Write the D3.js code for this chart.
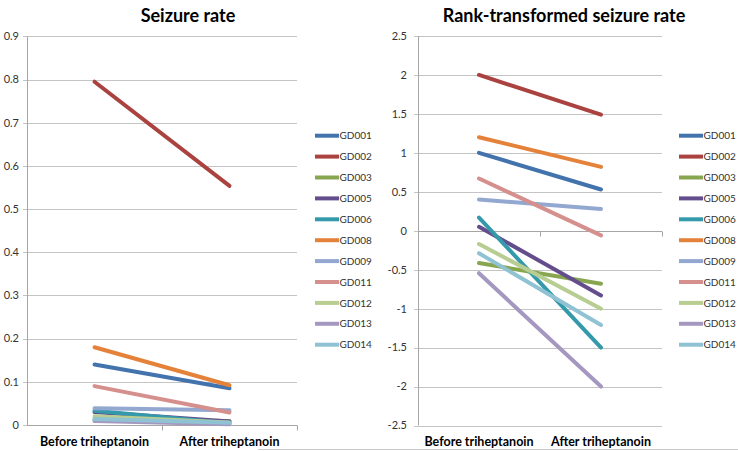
<!DOCTYPE html>
<html>
<head>
<meta charset="utf-8">
<script src="https://cdn.jsdelivr.net/npm/d3@7"></script>
<style>
  body { margin: 0; background: #fff; }
  svg { display: block; font-family: Lato, "Liberation Sans", sans-serif; }
  .tick-label { font-size: 11px; fill: #333; }
  .cat-label { font-size: 12.5px; font-weight: bold; fill: #000; }
  .title { font-size: 18px; font-weight: bold; fill: #000; }
  .legend-label { font-size: 10px; fill: #333; }
</style>
</head>
<body>
<div class="chart"></div>
<script>
'use strict';

const categories = ['Before triheptanoin', 'After triheptanoin'];
const patients = ['GD001', 'GD002', 'GD003', 'GD005', 'GD006', 'GD008', 'GD009', 'GD011', 'GD012', 'GD013', 'GD014'];

const seizureBefore = [0.14, 0.795, 0.012, 0.030, 0.033, 0.18, 0.039, 0.09, 0.02, 0.009, 0.014];
const seizureAfter = [0.085, 0.554, 0.009, 0.008, 0.004, 0.092, 0.034, 0.029, 0.006, 0.002, 0.005];

const rankBefore = [1.0, 2.0, -0.415, 0.05, 0.17, 1.2, 0.40, 0.67, -0.17, -0.545, -0.29];
const rankAfter = [0.53, 1.49, -0.68, -0.83, -1.5, 0.82, 0.28, -0.06, -1.0, -2.0, -1.21];

const seizureTicks = [0, 0.1, 0.2, 0.3, 0.4, 0.5, 0.6, 0.7, 0.8, 0.9];
const rankTicks = [-2.5, -2, -1.5, -1, -0.5, 0, 0.5, 1, 1.5, 2, 2.5];

const colors = ['#4373ad', '#aa4340', '#87a64f', '#634d8d', '#3499ab', '#e5823a',
  '#93a8d0', '#d58f8d', '#b8cd91', '#a598c0', '#8fc2d2'];

const width = 738;
const height = 451;

const svg = d3.select('.chart').append('svg')
  .attr('width', width)
  .attr('height', height);

function drawPanel(cfg) {
  const g = svg.append('g');

  const x = d3.scalePoint()
    .domain(categories)
    .range([cfg.left, cfg.right])
    .padding(0.5);

  const y = d3.scaleLinear()
    .domain(cfg.domain)
    .range([cfg.bottom, cfg.top]);

  // grid lines
  g.append('g')
    .selectAll('line')
    .data(cfg.ticks)
    .join('line')
    .attr('x1', cfg.left - 4)
    .attr('x2', cfg.right)
    .attr('y1', d => Math.round(y(d)) + 0.5)
    .attr('y2', d => Math.round(y(d)) + 0.5)
    .attr('stroke', '#c4c4c4')
    .attr('stroke-width', 1);

  // y axis
  g.append('line')
    .attr('x1', cfg.left + 0.5)
    .attr('x2', cfg.left + 0.5)
    .attr('y1', y(cfg.domain[1]))
    .attr('y2', y(cfg.domain[0]))
    .attr('stroke', '#a6a6a6');

  g.append('g')
    .selectAll('text')
    .data(cfg.ticks)
    .join('text')
    .attr('class', 'tick-label')
    .attr('x', cfg.left - cfg.labelGap)
    .attr('y', d => y(d))
    .attr('dy', '0.35em')
    .attr('text-anchor', 'end')
    .text(d => String(d));

  // category axis (crosses at zero)
  const y0 = Math.round(y(Math.max(cfg.domain[0], 0))) + 0.5;
  g.append('line')
    .attr('x1', cfg.left)
    .attr('x2', cfg.right)
    .attr('y1', y0)
    .attr('y2', y0)
    .attr('stroke', '#a6a6a6');

  const step = x.step();
  g.append('g')
    .selectAll('line')
    .data([cfg.left + step, cfg.left + 2 * step])
    .join('line')
    .attr('x1', d => Math.round(d) + 0.5)
    .attr('x2', d => Math.round(d) + 0.5)
    .attr('y1', y0)
    .attr('y2', y0 + 5)
    .attr('stroke', '#a6a6a6');

  g.append('g')
    .selectAll('text')
    .data(categories)
    .join('text')
    .attr('class', 'cat-label')
    .attr('x', d => x(d))
    .attr('y', cfg.catY)
    .attr('text-anchor', 'middle')
    .text(d => d);

  // series lines
  const line = d3.line()
    .x(d => x(d.cat))
    .y(d => y(d.value));

  const series = patients.map((p, i) => ({
    name: p,
    color: colors[i],
    values: [
      {cat: categories[0], value: cfg.before[i]},
      {cat: categories[1], value: cfg.after[i]}
    ]
  }));

  g.append('g')
    .selectAll('path')
    .data(series)
    .join('path')
    .attr('d', d => line(d.values))
    .attr('fill', 'none')
    .attr('stroke', d => d.color)
    .attr('stroke-width', 4)
    .attr('stroke-linecap', 'round');

  // title
  g.append('text')
    .attr('class', 'title')
    .attr('x', cfg.titleX)
    .attr('y', 22)
    .attr('text-anchor', 'middle')
    .text(cfg.title);

  // legend
  const legend = g.append('g')
    .selectAll('g')
    .data(series)
    .join('g')
    .attr('transform', (d, i) => `translate(${cfg.legendX},${cfg.legendY + i * 20.9})`);

  legend.append('line')
    .attr('x1', 0)
    .attr('x2', 24)
    .attr('stroke', d => d.color)
    .attr('stroke-width', 4);

  legend.append('text')
    .attr('class', 'legend-label')
    .attr('x', 24.5)
    .attr('dy', '0.36em')
    .text(d => d.name);
}

drawPanel({
  title: 'Seizure rate',
  titleX: 188,
  left: 27,
  right: 297,
  top: 36.4,
  bottom: 425,
  domain: [0, 0.9],
  ticks: seizureTicks,
  labelGap: 8,
  before: seizureBefore,
  after: seizureAfter,
  catY: 446,
  legendX: 315,
  legendY: 135.7
});

drawPanel({
  title: 'Rank-transformed seizure rate',
  titleX: 564,
  left: 418,
  right: 662,
  top: 36,
  bottom: 425.5,
  domain: [-2.5, 2.5],
  ticks: rankTicks,
  labelGap: 11,
  before: rankBefore,
  after: rankAfter,
  catY: 446,
  legendX: 679,
  legendY: 135.7
});

// outer frame remnant along the bottom edge
svg.append('line')
  .attr('x1', 258)
  .attr('x2', width)
  .attr('y1', 449.5)
  .attr('y2', 449.5)
  .attr('stroke', '#c8c8c8');
</script>
</body>
</html>
